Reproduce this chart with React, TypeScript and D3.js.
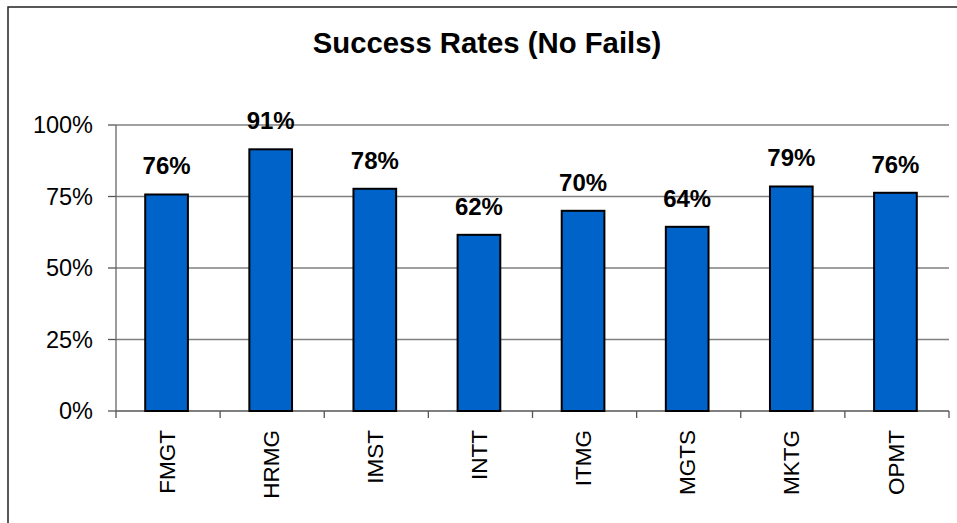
import React from "react";
import * as d3 from "d3";

const categories = ["FMGT", "HRMG", "IMST", "INTT", "ITMG", "MGTS", "MKTG", "OPMT"];
const values = [0.757, 0.915, 0.777, 0.616, 0.7, 0.644, 0.785, 0.763];
const labels = ["76%", "91%", "78%", "62%", "70%", "64%", "79%", "76%"];
const yTicks = [0, 0.25, 0.5, 0.75, 1];
const title = "Success Rates (No Fails)";

export default function App() {
  const W = 957, H = 523;
  const left = 116, right = 949, top = 125, bottom = 411;
  const x = d3.scaleBand<string>().domain(categories).range([left, right]).padding(0);
  const y = d3.scaleLinear().domain([0, 1]).range([bottom, top]);
  const bw = x.bandwidth() * 0.41;
  const font = "'Liberation Sans', Arial, sans-serif";
  const fmt = d3.format(".0%");
  return (
    <svg width={W} height={H} style={{ position: "absolute", left: 0, top: 0, background: "#fff" }} fontFamily={font}>
      <rect x={8} y={7} width={1100} height={700} fill="#fff" stroke="#222" strokeWidth={1.5} />
      <text x={487} y={53} textAnchor="middle" fontSize={29.3} fontWeight="bold" fill="#000">{title}</text>
      {yTicks.map((t) => (
        <g key={t}>
          {t > 0 && <line x1={left} x2={right} y1={y(t)} y2={y(t)} stroke="#808080" strokeWidth={1.3} />}
          <line x1={108} x2={left} y1={y(t)} y2={y(t)} stroke="#555" strokeWidth={1.3} />
          <text x={93} y={y(t)} dy="0.35em" textAnchor="end" fontSize={23.5} fill="#000">{fmt(t)}</text>
        </g>
      ))}
      <line x1={left} x2={left} y1={top} y2={bottom} stroke="#666" strokeWidth={1.3} />
      <line x1={left} x2={right} y1={bottom} y2={bottom} stroke="#555" strokeWidth={1.3} />
      {categories.map((c, i) => (
        <line key={"t" + c} x1={left + i * x.step() + x.step()} x2={left + i * x.step() + x.step()} y1={bottom} y2={bottom + 7} stroke="#555" strokeWidth={1.3} />
      ))}
      <line x1={left} x2={left} y1={bottom} y2={bottom + 7} stroke="#555" strokeWidth={1.3} />
      {categories.map((c, i) => {
        const cx = (x(c) as number) + x.bandwidth() / 2 - 1.5;
        return (
          <g key={c}>
            <rect x={cx - bw / 2} y={y(values[i])} width={bw} height={bottom - y(values[i])} fill="#0063C9" stroke="#000" strokeWidth={2} />
            <text x={cx} y={y(values[i]) - 20} textAnchor="middle" fontSize={24} fontWeight="bold" fill="#000">{labels[i]}</text>
            <text transform={`translate(${cx},430) rotate(-90)`} textAnchor="end" dy="0.36em" fontSize={22.5} fill="#000">{c}</text>
          </g>
        );
      })}
    </svg>
  );
}
